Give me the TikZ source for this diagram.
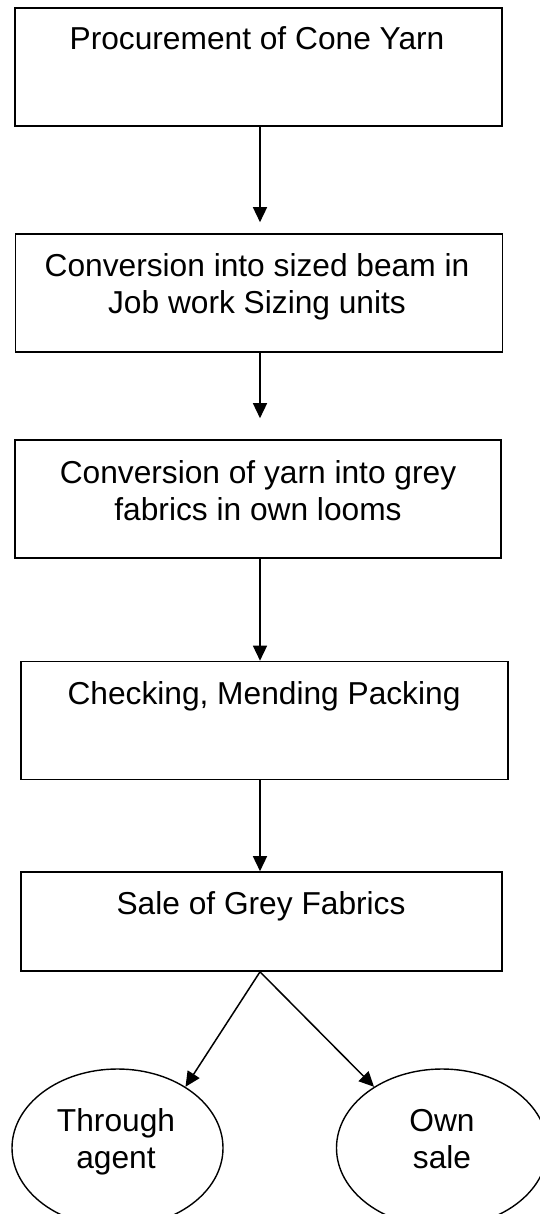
\documentclass[tikz,border=0pt]{standalone}
\usepackage{fontspec}
\setmainfont{Liberation Sans}
\usetikzlibrary{shapes.geometric,arrows.meta}

\begin{document}
\begin{tikzpicture}[x=1pt,y=-1pt,
  every node/.style={font=\fontsize{31.7}{37}\selectfont},
  stepbox/.style={draw=black,line width=1.6pt,rectangle,inner sep=0pt,
                  minimum width=#1,minimum height=118pt},
  stepbox/.default=487pt,
  endcap/.style={draw=black,line width=1.4pt,ellipse,inner sep=0pt,
                 minimum width=211pt,minimum height=158pt},
  caption/.style={anchor=base,align=center,inner sep=0pt},
  flow/.style={draw=black,line width=1.5pt,
               -{Triangle[width=14pt,length=15pt]}}
]
\useasboundingbox (0,0) rectangle (539,1214);

% process boxes
\node[stepbox] (b1) at (258.5,66.75) {};
\node[stepbox] (b2) at (259,293) {};
\node[stepbox=486pt] (b3) at (258,499) {};
\node[stepbox] (b4) at (264.5,720.5) {};
\node[stepbox=481pt,minimum height=99pt] (b5) at (261.5,921.5) {};

% outcome ellipses
\node[endcap] (agent) at (117.5,1148) {};
\node[endcap] (own) at (442,1148) {};

% box and ellipse texts (base = baseline of the last line)
\node[caption] (t1) at (257,50) {Procurement of Cone Yarn};
\node[caption] (t2) at (257,313) {Conversion into sized beam in\\Job work Sizing units};
\node[caption] (t3) at (258,520) {Conversion of yarn into grey\\fabrics in own looms};
\node[caption] (t4) at (264,704) {Checking, Mending Packing};
\node[caption] (t5) at (261,914) {Sale of Grey Fabrics};
\node[caption] (t6) at (116,1168) {Through\\agent};
\node[caption] (t7) at (442,1168) {Own\\sale};

% vertical spine of the flow
\coordinate (spine) at (260,0);

\draw[flow,shorten >=11pt] (b1.south -| spine) -- (b2.north -| spine);
\draw[flow,shorten >=21pt] (b2.south -| spine) -- (b3.north -| spine);
\draw[flow] (b3.south -| spine) -- (b4.north -| spine);
\draw[flow] (b4.south -| spine) -- (b5.north -| spine);
\draw[flow] (b5.south -| spine) -- (agent.42);
\draw[flow] (b5.south -| spine) -- (own.138);
\end{tikzpicture}
\end{document}
